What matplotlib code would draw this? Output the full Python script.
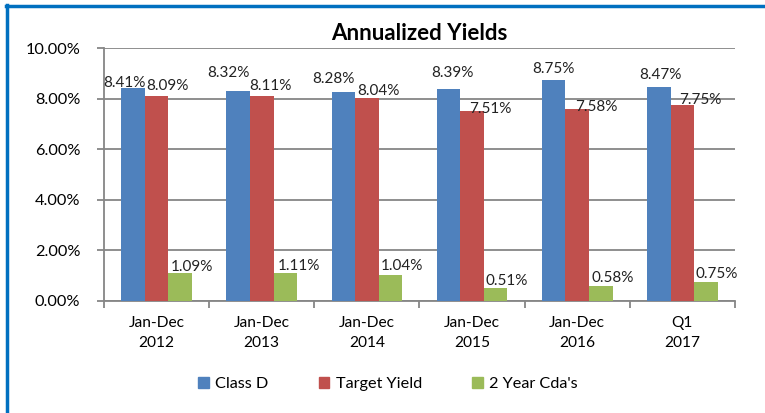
import numpy as np
import matplotlib
matplotlib.use("Agg")
import matplotlib.pyplot as plt
from matplotlib.lines import Line2D
from matplotlib.patches import Patch

# data
periods = ["Jan-Dec\n2012", "Jan-Dec\n2013", "Jan-Dec\n2014", "Jan-Dec\n2015", "Jan-Dec\n2016", "Q1\n2017"]
class_d = [8.41, 8.32, 8.28, 8.39, 8.75, 8.47]
target_yield = [8.09, 8.11, 8.04, 7.51, 7.58, 7.75]
two_year_cda = [1.09, 1.11, 1.04, 0.51, 0.58, 0.75]
series_names = ["Class D", "Target Yield", "2 Year Cda's"]
yticks = [0, 2, 4, 6, 8, 10]

colors = ["#4F81BD", "#C0504D", "#9BBB59"]
# label nudges in pixels (dx, dy) for each series, as placed in the original
nudge_x = [[-9, -10, -10, 4, 0, 2], [11, 9, 12, 18, 19, 18], [12, 14, 11, 11, 12, 11]]
nudge_y = [[5, 18, 13, 16, 11, 12], [10, 10, 7, 2, 2, 5], [6, 7, 9, 7, 8, 8]]

plt.rcParams['font.family'] = ['Lato', 'DejaVu Sans']

fig = plt.figure(figsize=(7.65, 4.13), dpi=100)
ax = fig.add_axes([104 / 765, 1 - 301 / 413, (735 - 104) / 765, (301 - 48) / 413])

x = np.arange(len(periods))
width = 0.224
grid_col = "#868686"

for i, vals in enumerate([class_d, target_yield, two_year_cda]):
    pos = x + (i - 1) * width
    ax.bar(pos, vals, width, color=colors[i], zorder=3)
    for j, v in enumerate(vals):
        ax.annotate(f"{v:.2f}%", (pos[j], v), xytext=(nudge_x[i][j] * 0.72, nudge_y[i][j] * 0.72),
                    textcoords="offset points", ha="center", va="center", fontsize=11, color="#222222",
                    zorder=5)

ax.set_xlim(-0.5, len(periods) - 0.5)
ax.set_ylim(0, 10)
ax.set_yticks(yticks)
ax.set_yticklabels([f"{t:.2f}%" for t in yticks], fontsize=11.7)
ax.yaxis.grid(True, color=grid_col, linewidth=1.3, zorder=0)
ax.set_axisbelow(True)

# categories between ticks, like Excel
ax.set_xticks(np.arange(len(periods) + 1) - 0.5)
ax.set_xticklabels([])
ax.set_xticks(x, minor=True)
ax.set_xticklabels(periods, minor=True, fontsize=11.2, linespacing=1.5)
ax.tick_params(axis="x", which="minor", length=0, pad=11)
ax.tick_params(axis="x", which="major", length=5, width=1.3, color=grid_col)
ax.tick_params(axis="y", length=5, width=1.3, color=grid_col, pad=12)

for s in ["top", "right"]:
    ax.spines[s].set_visible(False)
for s in ["left", "bottom"]:
    ax.spines[s].set_color(grid_col)
    ax.spines[s].set_linewidth(1.3)

fig.text(419 / 765, 1 - 33 / 413, "Annualized Yields", ha="center", va="center",
         fontsize=16, fontweight="bold")

handles = [Patch(color=c) for c in colors]
fig.legend(handles, series_names, loc="center", bbox_to_anchor=(388 / 765, 1 - 384 / 413),
           ncol=3, frameon=False, fontsize=11.7, handlelength=0.65, handleheight=0.65,
           handletextpad=0.4, columnspacing=3.1)

# blue frame on top and left edges
fig.add_artist(Line2D([6 / 765, 1], [1 - 6 / 413, 1 - 6 / 413], color="#0070C0", linewidth=2.5))
fig.add_artist(Line2D([7 / 765, 7 / 765], [0, 1 - 5 / 413], color="#0070C0", linewidth=2.5))

fig.savefig("out.png", dpi=100)
